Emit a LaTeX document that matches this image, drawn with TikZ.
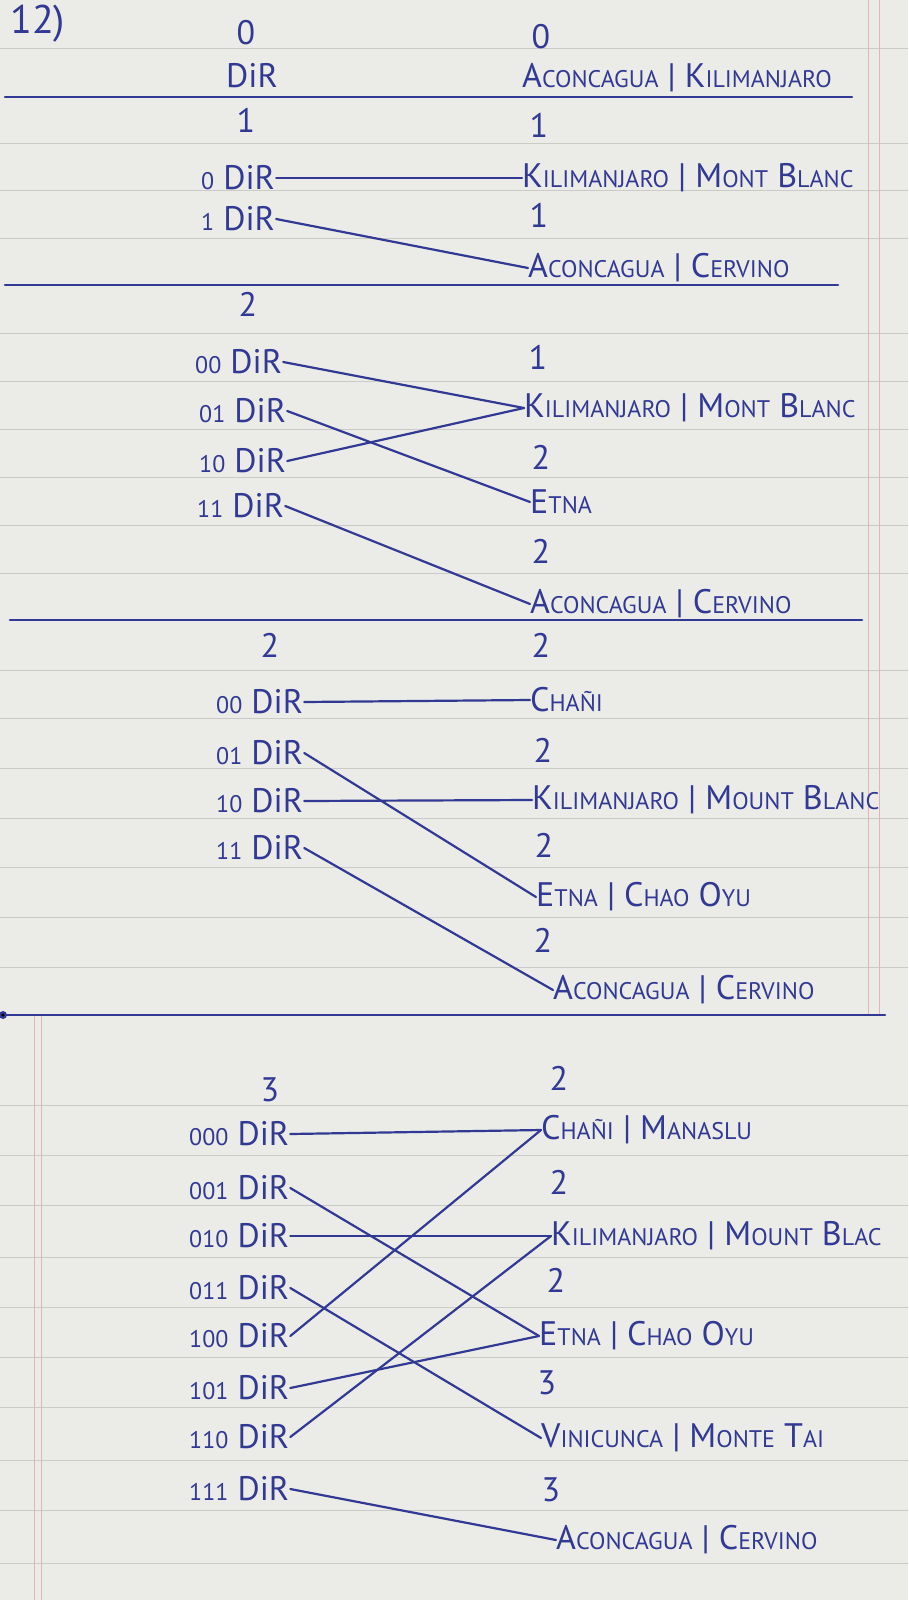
\documentclass[tikz,border=0pt]{standalone}
\usepackage{fontspec}
\setmainfont{PT Sans}
\definecolor{ink}{HTML}{323994}
\definecolor{paper}{HTML}{EBECE7}
\definecolor{rule}{HTML}{CACBC7}
\definecolor{margin}{HTML}{E3B3B8}
\newcommand\lo[1]{{\fontsize{24}{24}\selectfont\MakeUppercase{#1}}}
\newcommand\bg{\fontsize{34}{34}\selectfont}
\newcommand\sm[1]{{\fontsize{24}{24}\selectfont #1}}
\begin{document}
\begin{tikzpicture}[x=1pt,y=-1pt,
  ink/.style={draw=ink, line width=2.2pt, line cap=round},
  sep/.style={draw=ink, line width=2.6pt, line cap=round},
  lbl/.style={text=ink, inner sep=0pt, anchor=west, font=\bg},
  dirlbl/.style={text=ink, inner sep=1pt, anchor=west, font=\bg},
  num/.style={text=ink, inner sep=0pt, font=\fontsize{34}{34}\selectfont},
  ruled/.style={draw=rule, line width=0.8pt},
  marg/.style={draw=margin, line width=0.9pt}]
\fill[paper] (0,0) rectangle (908,1600);
\useasboundingbox (0,0) rectangle (908,1600);
% ruled lines
\foreach \y in {48,143,190,238,333,381,429,477,525,573,670,718,768,818,867,917,967,1105,1155,1205,1257,1307,1357,1407,1460,1510,1563}
  \draw[ruled] (0,\y) -- (908,\y);
\draw[marg] (868,0) -- (868,1015);
\draw[marg] (879,0) -- (879,1015);
\draw[marg] (34,1015) -- (34,1600);
\draw[marg] (41,1015) -- (41,1600);

% ---------- section 1 ----------
\node[text=ink, inner sep=0pt, anchor=west, font=\fontsize{40}{40}\selectfont] (q) at (10,24) {12)};
\node[num] (l1) at (246,33) {0};
\node[num] (r1) at (541,37) {0};
\node[lbl] (d1) at (226,76) {DiR};
\node[lbl] (b1) at (522,78) {A\lo{concagua} | K\lo{ilimanjaro}};
\draw[sep] (5,97) -- (852,97);

\node[num] (l2) at (246,120) {1};
\node[num] (r2) at (539,125) {1};
\node[dirlbl] (s1a) at (200,178) {\sm{0} DiR};
\node[lbl] (s1k) at (522,178) {K\lo{ilimanjaro} | M\lo{ont} B\lo{lanc}};
\node[num] (r3) at (539,215) {1};
\node[dirlbl] (s1b) at (200,219) {\sm{1} DiR};
\node[lbl] (s1c) at (528,268) {A\lo{concagua} | C\lo{ervino}};
\draw[ink] (s1a.east) -- (s1k.west);
\draw[ink] (s1b.east) -- (s1c.west);
\draw[sep] (5,285) -- (838,285);

% ---------- section 2 ----------
\node[num] (l3) at (248,304) {2};
\node[num] (r4) at (538,357) {1};
\node[dirlbl] (s2a) at (194,362) {\sm{00} DiR};
\node[dirlbl] (s2b) at (198,411) {\sm{01} DiR};
\node[dirlbl] (s2c) at (198,461) {\sm{10} DiR};
\node[dirlbl] (s2d) at (196,506) {\sm{11} DiR};
\node[lbl] (s2k) at (524,408) {K\lo{ilimanjaro} | M\lo{ont} B\lo{lanc}};
\node[num] (r5) at (541,457) {2};
\node[lbl] (s2e) at (530,502) {E\lo{tna}};
\node[num] (r6) at (541,551) {2};
\node[lbl] (s2f) at (530,604) {A\lo{concagua} | C\lo{ervino}};
\draw[ink] (s2a.east) -- (s2k.west);
\draw[ink] (s2b.east) -- (s2e.west);
\draw[ink] (s2c.east) -- (s2k.west);
\draw[ink] (s2d.east) -- (s2f.west);
\draw[sep] (10,620) -- (862,620);

% ---------- section 3 ----------
\node[num] (l4) at (270,645) {2};
\node[num] (r7) at (541,645) {2};
\node[dirlbl] (s3a) at (215,702) {\sm{00} DiR};
\node[dirlbl] (s3b) at (215,753) {\sm{01} DiR};
\node[dirlbl] (s3c) at (215,801) {\sm{10} DiR};
\node[dirlbl] (s3d) at (215,848) {\sm{11} DiR};
\node[lbl] (s3ch) at (530,700) {C\lo{hañi}};
\node[num] (r8) at (543,750) {2};
\node[lbl] (s3k) at (532,800) {K\lo{ilimanjaro} | M\lo{ount} B\lo{lanc}};
\node[num] (r9) at (544,845) {2};
\node[lbl] (s3e) at (536,897) {E\lo{tna} | C\lo{hao} O\lo{yu}};
\node[num] (r10) at (543,940) {2};
\node[lbl] (s3f) at (553,990) {A\lo{concagua} | C\lo{ervino}};
\draw[ink] (s3a.east) -- (s3ch.west);
\draw[ink] (s3b.east) -- (s3e.west);
\draw[ink] (s3c.east) -- (s3k.west);
\draw[ink] (s3d.east) -- (s3f.west);
\draw[sep] (3,1015) -- (885,1015);
\fill[ink] (3,1015) circle (2.8);

% ---------- section 4 ----------
\node[num] (l5) at (270,1090) {3};
\node[num] (r11) at (559,1078) {2};
\node[dirlbl] (t0) at (188,1134) {\sm{000} DiR};
\node[dirlbl] (t1) at (188,1188) {\sm{001} DiR};
\node[dirlbl] (t2) at (188,1236) {\sm{010} DiR};
\node[dirlbl] (t3) at (188,1288) {\sm{011} DiR};
\node[dirlbl] (t4) at (188,1336) {\sm{100} DiR};
\node[dirlbl] (t5) at (188,1388) {\sm{101} DiR};
\node[dirlbl] (t6) at (188,1437) {\sm{110} DiR};
\node[dirlbl] (t7) at (188,1489) {\sm{111} DiR};
\node[lbl] (u0) at (541,1130) {C\lo{hañi} | M\lo{anaslu}};
\node[num] (r12) at (559,1182) {2};
\node[lbl] (u1) at (551,1236) {K\lo{ilimanjaro} | M\lo{ount} B\lo{lac}};
\node[num] (r13) at (556,1280) {2};
\node[lbl] (u2) at (539,1336) {E\lo{tna} | C\lo{hao} O\lo{yu}};
\node[num] (r14) at (547,1383) {3};
\node[lbl] (u3) at (541,1438) {V\lo{inicunca} | M\lo{onte} T\lo{ai}};
\node[num] (r15) at (551,1490) {3};
\node[lbl] (u4) at (556,1540) {A\lo{concagua} | C\lo{ervino}};
\draw[ink] (t0.east) -- (u0.west);
\draw[ink] (t1.east) -- (u2.west);
\draw[ink] (t2.east) -- (u1.west);
\draw[ink] (t3.east) -- (u3.west);
\draw[ink] (t4.east) -- (u0.west);
\draw[ink] (t5.east) -- (u2.west);
\draw[ink] (t6.east) -- (u1.west);
\draw[ink] (t7.east) -- (u4.west);
\end{tikzpicture}
\end{document}
